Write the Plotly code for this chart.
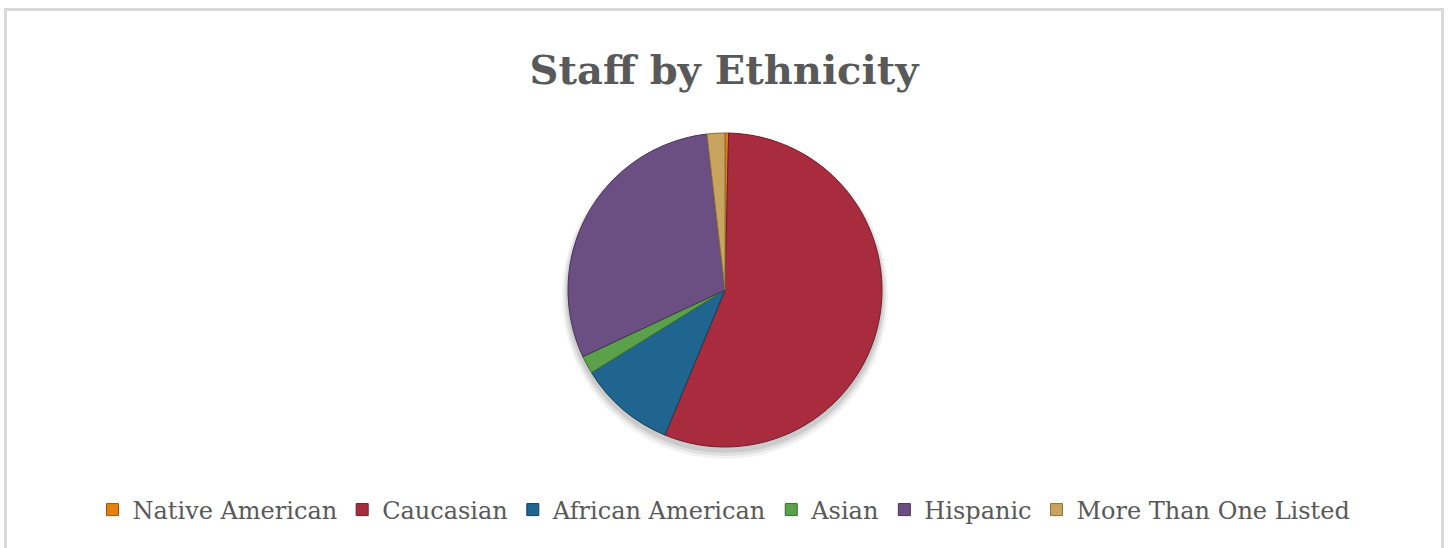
import plotly.graph_objects as go

# Staff headcount by ethnicity
categories = ["Native American", "Caucasian", "African American", "Asian",
              "Hispanic", "More Than One Listed"]
staff_counts = [1, 152, 27, 5, 82, 5]
slice_colors = ["#E47F10", "#A82C3E", "#1F6590", "#5BA04A", "#6B4E82", "#C9A45E"]
edge_colors = ["#9A5308", "#6E1C28", "#123F5C", "#3A6B2E", "#453254", "#8C7038"]

W, H = 1448, 548
cx, cy, r = 725, 290, 157  # pie centre/radius in pixels


def px_x(x):
    return x / W


def px_y(y):
    return 1 - y / H


fig = go.Figure()

fig.add_trace(go.Pie(
    labels=categories,
    values=staff_counts,
    sort=False,
    direction="clockwise",
    rotation=0,
    textinfo="none",
    hoverinfo="label+value+percent",
    marker=dict(colors=slice_colors, line=dict(color=edge_colors, width=1)),
    domain=dict(x=[px_x(cx - r), px_x(cx + r)], y=[px_y(cy + r), px_y(cy - r)]),
))

shapes = []
# soft drop shadow under the pie
for grow, dy, op in [(6, 6, 0.05), (4, 5, 0.07), (2, 4, 0.09)]:
    shapes.append(dict(
        type="circle", xref="paper", yref="paper", layer="below",
        x0=px_x(cx - r - grow), x1=px_x(cx + r + grow),
        y0=px_y(cy + r + grow + dy), y1=px_y(cy - r - grow + dy),
        fillcolor=f"rgba(0,0,0,{op})", line=dict(width=0),
    ))
# chart-area border
shapes.append(dict(
    type="rect", xref="paper", yref="paper", layer="below",
    x0=px_x(5.5), x1=px_x(1442.5), y0=-0.05, y1=px_y(9.5),
    line=dict(color="#D9D9D9", width=3), fillcolor="rgba(0,0,0,0)",
))

fig.update_layout(
    width=W, height=H, autosize=False,
    margin=dict(l=0, r=0, t=0, b=0),
    paper_bgcolor="white", plot_bgcolor="white",
    title=dict(
        text="Staff by Ethnicity",
        x=0.5, xanchor="center", xref="paper",
        y=px_y(70), yanchor="middle", yref="container",
        font=dict(family="DejaVu Serif", size=40, color="#595959", weight="bold"),
    ),
    legend=dict(
        orientation="h", x=0.5, xanchor="center", y=px_y(510), yanchor="middle",
        font=dict(family="DejaVu Serif", size=24, color="#595959"),
        itemwidth=30, traceorder="normal",
    ),
    shapes=shapes,
)

fig.write_html("out.html")
